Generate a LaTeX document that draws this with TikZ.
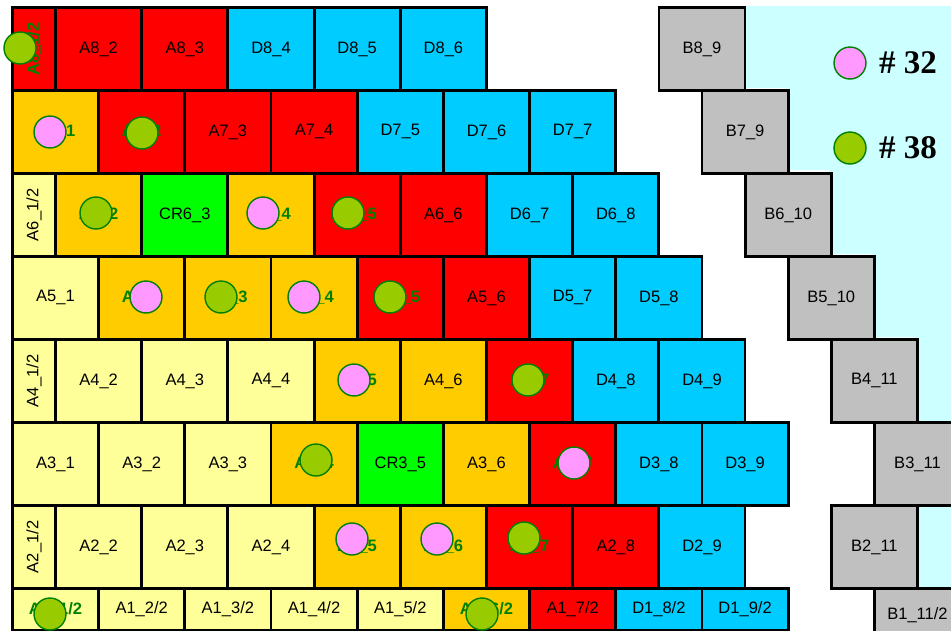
\documentclass[tikz,border=0pt]{standalone}
\usepackage{fontspec}
\setmainfont{Liberation Sans}
\newfontfamily\legendfont{Liberation Serif}
\usetikzlibrary{positioning}
\definecolor{cred}{RGB}{255,0,0}
\definecolor{cblue}{RGB}{0,204,255}
\definecolor{corange}{RGB}{255,204,0}
\definecolor{cyellow}{RGB}{255,255,153}
\definecolor{cgreen}{RGB}{0,255,0}
\definecolor{cgray}{RGB}{192,192,192}
\definecolor{cbg}{RGB}{204,255,255}
\definecolor{cpink}{RGB}{255,153,255}
\definecolor{cdot}{RGB}{153,204,0}
\definecolor{labgreen}{RGB}{0,128,0}
\newcommand{\hit}[1]{\textcolor{labgreen}{\bfseries #1}}
\newcommand{\rot}[1]{\rotatebox{90}{#1}}

\begin{document}
\begin{tikzpicture}[x=0.02cm, y=-0.02cm,
    cell/.style={draw, line width=1.6pt, anchor=north west, inner sep=0pt, minimum width=#1*0.862cm, minimum height=1.66cm, font=\fontsize{9.4}{11}\selectfont},
    dot/.style={circle, draw=labgreen, line width=0.8pt, minimum size=0.64cm, inner sep=0pt},
    pk/.style={dot, fill=cpink},
    gr/.style={dot, fill=cdot},
    legend/.style={font=\legendfont\bfseries\fontsize{18.8}{20}\selectfont, inner sep=0pt}
  ]
    \useasboundingbox (0,0) rectangle (951,630);
    \clip (0,0) rectangle (951,630);

    % background behind the B column
    \fill[cbg] (743,6) -| (951,587) -| (915,337) -| (872,254) -| (829,170) -| (786,88) -- (743,88) -- cycle;

    % row 8
    \foreach \c/\w/\col/\n/\lab in {0/1/cred/a81/{\rot{\hit{A8\_1/2}}}, 1/2/cred/a82/{A8\_2}, 3/2/cred/a83/{A8\_3},
        5/2/cblue/d84/{D8\_4}, 7/2/cblue/d85/{D8\_5}, 9/2/cblue/d86/{D8\_6}, 15/2/cgray/b89/{B8\_9}}
      \node[cell=\w, fill=\col] (\n) at (11+\c*43.1, 6) {\lab};
    % row 7
    \foreach \c/\w/\col/\n/\lab in {0/2/corange/a71/{\hit{A7\_1}}, 2/2/cred/a72/{\hit{A7\_2}}, 4/2/cred/a73/{A7\_3},
        6/2/cred/a74/{A7\_4}, 8/2/cblue/d75/{D7\_5}, 10/2/cblue/d76/{D7\_6}, 12/2/cblue/d77/{D7\_7}, 16/2/cgray/b79/{B7\_9}}
      \node[cell=\w, fill=\col] (\n) at (11+\c*43.1, 89) {\lab};
    % row 6
    \foreach \c/\w/\col/\n/\lab in {0/1/cyellow/a61/{\rot{A6\_1/2}}, 1/2/corange/a62/{\hit{A6\_2}}, 3/2/cgreen/cr63/{CR6\_3},
        5/2/corange/a64/{\hit{A6\_4}}, 7/2/cred/a65/{\hit{A6\_5}}, 9/2/cred/a66/{A6\_6}, 11/2/cblue/d67/{D6\_7},
        13/2/cblue/d68/{D6\_8}, 17/2/cgray/b610/{B6\_10}}
      \node[cell=\w, fill=\col] (\n) at (11+\c*43.1, 172) {\lab};
    % row 5
    \foreach \c/\w/\col/\n/\lab in {0/2/cyellow/a51/{A5\_1}, 2/2/corange/a52/{\hit{A5\_2}}, 4/2/corange/a53/{\hit{A5\_3}},
        6/2/corange/a54/{\hit{A5\_4}}, 8/2/cred/a55/{\hit{A5\_5}}, 10/2/cred/a56/{A5\_6}, 12/2/cblue/d57/{D5\_7},
        14/2/cblue/d58/{D5\_8}, 18/2/cgray/b510/{B5\_10}}
      \node[cell=\w, fill=\col] (\n) at (11+\c*43.1, 255) {\lab};
    % row 4
    \foreach \c/\w/\col/\n/\lab in {0/1/cyellow/a41/{\rot{A4\_1/2}}, 1/2/cyellow/a42/{A4\_2}, 3/2/cyellow/a43/{A4\_3},
        5/2/cyellow/a44/{A4\_4}, 7/2/corange/a45/{\hit{A4\_5}}, 9/2/corange/a46/{A4\_6}, 11/2/cred/a47/{\hit{A4\_7}},
        13/2/cblue/d48/{D4\_8}, 15/2/cblue/d49/{D4\_9}, 19/2/cgray/b411/{B4\_11}}
      \node[cell=\w, fill=\col] (\n) at (11+\c*43.1, 338) {\lab};
    % row 3
    \foreach \c/\w/\col/\n/\lab in {0/2/cyellow/a31/{A3\_1}, 2/2/cyellow/a32/{A3\_2}, 4/2/cyellow/a33/{A3\_3},
        6/2/corange/a34/{\hit{A3\_4}}, 8/2/cgreen/cr35/{CR3\_5}, 10/2/corange/a36/{A3\_6}, 12/2/cred/a37/{\hit{A3\_7}},
        14/2/cblue/d38/{D3\_8}, 16/2/cblue/d39/{D3\_9}, 20/2/cgray/b311/{B3\_11}}
      \node[cell=\w, fill=\col] (\n) at (11+\c*43.1, 421) {\lab};
    % row 2
    \foreach \c/\w/\col/\n/\lab in {0/1/cyellow/a21/{\rot{A2\_1/2}}, 1/2/cyellow/a22/{A2\_2}, 3/2/cyellow/a23/{A2\_3},
        5/2/cyellow/a24/{A2\_4}, 7/2/corange/a25/{\hit{A2\_5}}, 9/2/corange/a26/{\hit{A2\_6}}, 11/2/cred/a27/{\hit{A2\_7}},
        13/2/cred/a28/{A2\_8}, 15/2/cblue/d29/{D2\_9}, 19/2/cgray/b211/{B2\_11}}
      \node[cell=\w, fill=\col] (\n) at (11+\c*43.1, 504) {\lab};
    % row 1 (half height)
    \foreach \c/\w/\col/\n/\lab in {0/2/cyellow/a11/{\hit{A1\_1/2}}, 2/2/cyellow/a12/{A1\_2/2}, 4/2/cyellow/a13/{A1\_3/2},
        6/2/cyellow/a14/{A1\_4/2}, 8/2/cyellow/a15/{A1\_5/2}, 10/2/corange/a16/{\hit{A1\_6/2}}, 12/2/cred/a17/{A1\_7/2},
        14/2/cblue/d18/{D1\_8/2}, 16/2/cblue/d19/{D1\_9/2}}
      \node[cell=\w, fill=\col, minimum height=0.83cm] (\n) at (11+\c*43.1, 587) {\lab};
    \node[cell=2, fill=cgray, minimum height=1.06cm] (b111) at (11+20*43.1, 587) {B1\_11/2};

    % markers
    \foreach \x/\y/\s/\n in {20/48/gr/m1, 50/132/pk/m2, 142/133/gr/m3, 96/213/gr/m4, 263/213/pk/m5, 348/213/gr/m6,
        146/297/pk/m7, 221/297/gr/m8, 304/297/pk/m9, 390/297/gr/m10, 354/380/pk/m11, 528/380/gr/m12,
        316/460/gr/m13, 574/463/pk/m14, 352/539/pk/m15, 437/539/pk/m16, 524/538/gr/m17, 50/614/gr/m18, 482/614/gr/m19}
      \node[\s] (\n) at (\x,\y) {};

    % legend
    \node[pk] (k32) at (850,63) {};
    \node[legend, right=0.24cm of k32] (t32) {\# 32};
    \node[gr] (k38) at (850,148) {};
    \node[legend, right=0.24cm of k38] (t38) {\# 38};
  \end{tikzpicture}
\end{document}
